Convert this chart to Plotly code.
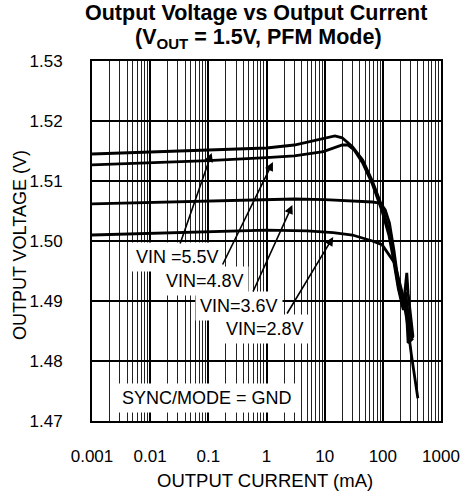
import plotly.graph_objects as go

# ---------------- data ----------------
series_names = ["VIN=5.5V", "VIN=4.8V", "VIN=3.6V", "VIN=2.8V"]

i_55 = [0.001, 0.01, 0.1, 1, 3, 9.5, 15, 20, 30, 45, 66, 97, 127, 153, 185, 225, 258, 272, 330]
v_55 = [1.5145, 1.5148, 1.5151, 1.5155, 1.5160, 1.5170, 1.5175, 1.5172, 1.5157, 1.5135, 1.5100, 1.5057, 1.5018, 1.4973, 1.4925, 1.4890, 1.4947, 1.4913, 1.4840]

i_48 = [0.001, 0.01, 0.1, 1, 3, 9.5, 20, 25, 32, 45, 66, 97, 127, 153, 185, 225, 245, 272, 330]
v_48 = [1.5127, 1.5130, 1.5134, 1.5139, 1.5142, 1.5149, 1.5160, 1.5160, 1.5152, 1.5130, 1.5095, 1.5050, 1.5010, 1.4968, 1.4920, 1.4885, 1.4915, 1.4830, 1.4838]

i_36 = [0.001, 0.01, 0.1, 1, 3, 10, 30, 66, 92, 110, 130, 155, 185, 215, 245, 265, 300, 330]
v_36 = [1.5062, 1.5064, 1.5066, 1.5068, 1.5070, 1.5069, 1.5067, 1.5065, 1.5063, 1.5052, 1.5030, 1.4985, 1.4930, 1.4895, 1.4915, 1.4890, 1.4845, 1.4838]

i_28 = [0.001, 0.01, 0.1, 1, 5, 14, 30, 45, 66, 97, 130, 160, 210, 260, 310, 400]
v_28 = [1.5010, 1.5013, 1.5016, 1.5018, 1.5017, 1.5014, 1.5010, 1.5005, 1.5000, 1.4994, 1.4977, 1.4963, 1.4918, 1.4868, 1.4810, 1.4738]

x_tickvals = [0.001, 0.01, 0.1, 1, 10, 100, 1000]
x_ticktext = ["0.001", "0.01", "0.1", "1", "10", "100", "1000"]
y_tickvals = [1.47, 1.48, 1.49, 1.50, 1.51, 1.52, 1.53]

# label texts and arrow tips (log10 current, voltage)
label_texts = ["VIN =5.5V", "VIN=4.8V", "VIN=3.6V", "VIN=2.8V", "SYNC/MODE = GND"]
label_logx = [-1.528, -1.060, -0.475, -0.023, -1.027]
label_v = [1.49733, 1.49333, 1.48917, 1.48533, 1.47383]
arrow_tip_logx = [-0.943, 0.110, 0.445, 1.147]
arrow_tip_v = [1.51467, 1.51317, 1.50600, 1.50067]
arrow_dx = [-32, -51, -40, -47]
arrow_dy = [92, 104, 88, 78]

FONT = "Liberation Sans, Arial, sans-serif"

fig = go.Figure()
for name, xs, ys in zip(series_names, [i_55, i_48, i_36, i_28], [v_55, v_48, v_36, v_28]):
    fig.add_trace(go.Scatter(x=xs, y=ys, mode="lines", name=name,
                             line=dict(color="black", width=2.8), showlegend=False))

annotations = []
for t, lx, lv in zip(label_texts, label_logx, label_v):
    annotations.append(dict(x=lx, y=lv, xref="x", yref="y", text=t, showarrow=False,
                            font=dict(family=FONT, size=18, color="black"),
                            bgcolor="white", borderpad=4))
for tx, tv, dx, dy in zip(arrow_tip_logx, arrow_tip_v, arrow_dx, arrow_dy):
    annotations.append(dict(x=tx, y=tv, xref="x", yref="y", text="", showarrow=True,
                            ax=dx, ay=dy, arrowhead=2, arrowsize=1.1, arrowwidth=1.6,
                            arrowcolor="black"))
annotations.append(dict(x=0.471, y=1.134, xref="paper", yref="paper",
                        text="<b>Output Voltage vs Output Current</b>", showarrow=False,
                        font=dict(family=FONT, size=21.5, color="black"), yanchor="middle"))
annotations.append(dict(x=0.476, y=1.062, xref="paper", yref="paper",
                        text="<b>(V<sub>OUT</sub> = 1.5V, PFM Mode)</b>", showarrow=False,
                        font=dict(family=FONT, size=21.5, color="black"), yanchor="middle"))
annotations.append(dict(x=0.496, y=-0.164, xref="paper", yref="paper",
                        text="OUTPUT CURRENT (mA)", showarrow=False,
                        font=dict(family=FONT, size=18.5, color="black"), yanchor="middle"))
annotations.append(dict(x=-0.206, y=0.489, xref="paper", yref="paper",
                        text="OUTPUT VOLTAGE (V)", showarrow=False, textangle=-90,
                        font=dict(family=FONT, size=18, color="black"), xanchor="center"))

fig.update_layout(
    width=472, height=491,
    margin=dict(l=92, r=21, t=61, b=70),
    paper_bgcolor="white", plot_bgcolor="white",
    font=dict(family=FONT, size=17, color="black"),
    annotations=annotations,
    showlegend=False,
)
fig.update_xaxes(type="log", range=[-3, 3], tickvals=x_tickvals, ticktext=x_ticktext,
                 showgrid=True, gridcolor="black", gridwidth=1.8,
                 minor=dict(dtick="D1", showgrid=True, gridcolor="#222", gridwidth=1),
                 showline=True, linecolor="black", linewidth=2, mirror=True,
                 ticks="", ticklabelstandoff=19, zeroline=False)
fig.update_yaxes(range=[1.47, 1.53], tickvals=y_tickvals, tickformat=".2f",
                 showgrid=True, gridcolor="black", gridwidth=1.5,
                 showline=True, linecolor="black", linewidth=2, mirror=True,
                 ticks="", ticklabelstandoff=24, zeroline=False)

fig.write_html("out.html", config={"displayModeBar": False},
               post_script="document.body.style.margin='0px';document.body.style.overflow='hidden';")
